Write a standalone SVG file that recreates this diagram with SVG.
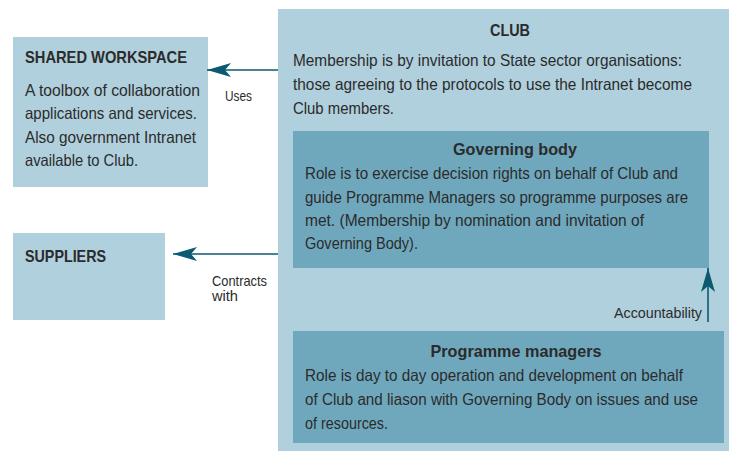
<svg xmlns="http://www.w3.org/2000/svg" width="729" height="451" viewBox="0 0 729 451">
<defs>
<style>
.light{fill:#b0d0dd}
.dark{fill:#6fa8bd}
text{font-family:"Liberation Sans",Arial,sans-serif;fill:#2b2b2b}
.t{font-size:16.5px}
.s{font-size:15.8px}
.b{font-size:16.5px;font-weight:bold}
.l{font-size:14.5px}
.conn{stroke:#0b5a72;stroke-width:1.6;fill:none}
</style>
<marker id="ah" markerUnits="userSpaceOnUse" markerWidth="24" markerHeight="14" refX="24" refY="7" orient="auto">
<path d="M0,0 L24,7 L0,14 L6,7 z" fill="#0b5a72"/>
</marker>
</defs>
<rect width="729" height="451" fill="#ffffff"/>

<g id="shared-workspace">
<rect class="light" x="13" y="37" width="195" height="150"/>
<text class="b" x="25" y="63" textLength="162" lengthAdjust="spacingAndGlyphs">SHARED WORKSPACE</text>
<text class="t" x="25" y="96" textLength="175" lengthAdjust="spacingAndGlyphs">A toolbox of collaboration</text>
<text class="t" x="25" y="119" textLength="172" lengthAdjust="spacingAndGlyphs">applications and services.</text>
<text class="t" x="25" y="143" textLength="171" lengthAdjust="spacingAndGlyphs">Also government Intranet</text>
<text class="t" x="25" y="166" textLength="113" lengthAdjust="spacingAndGlyphs">available to Club.</text>
</g>

<g id="suppliers">
<rect class="light" x="13" y="233" width="152" height="87"/>
<text class="b" x="25" y="262" textLength="81" lengthAdjust="spacingAndGlyphs">SUPPLIERS</text>
</g>

<g id="club">
<rect class="light" x="278" y="9" width="451" height="442"/>
<text class="b" x="510" y="36" text-anchor="middle" textLength="40" lengthAdjust="spacingAndGlyphs">CLUB</text>
<text class="t" x="293" y="66" textLength="389" lengthAdjust="spacingAndGlyphs">Membership is by invitation to State sector organisations:</text>
<text class="t" x="293" y="90" textLength="399" lengthAdjust="spacingAndGlyphs">those agreeing to the protocols to use the Intranet become</text>
<text class="t" x="293" y="114" textLength="101" lengthAdjust="spacingAndGlyphs">Club members.</text>
</g>

<g id="governing-body">
<rect class="dark" x="293" y="131" width="416" height="137"/>
<text class="b" x="515" y="155" text-anchor="middle" textLength="124" lengthAdjust="spacingAndGlyphs">Governing body</text>
<text class="t" x="305" y="179" textLength="373" lengthAdjust="spacingAndGlyphs">Role is to exercise decision rights on behalf of Club and</text>
<text class="t" x="305" y="203" textLength="383" lengthAdjust="spacingAndGlyphs">guide Programme Managers so programme purposes are</text>
<text class="t" x="305" y="226" textLength="339" lengthAdjust="spacingAndGlyphs">met. (Membership by nomination and invitation of</text>
<text class="t" x="305" y="249" textLength="113" lengthAdjust="spacingAndGlyphs">Governing Body).</text>
</g>

<g id="programme-managers">
<rect class="dark" x="293" y="331" width="431" height="112"/>
<text class="b" x="516" y="357" text-anchor="middle" textLength="171" lengthAdjust="spacingAndGlyphs">Programme managers</text>
<text class="t" x="305" y="381" textLength="378" lengthAdjust="spacingAndGlyphs">Role is day to day operation and development on behalf</text>
<text class="s" x="305" y="405" textLength="393" lengthAdjust="spacingAndGlyphs">of Club and liason with Governing Body on issues and use</text>
<text class="t" x="305" y="429" textLength="83" lengthAdjust="spacingAndGlyphs">of resources.</text>
</g>

<g id="connectors">
<path class="conn" d="M278,70 L207,70" marker-end="url(#ah)"/>
<text class="l" x="225" y="101" textLength="27" lengthAdjust="spacingAndGlyphs">Uses</text>
<path class="conn" d="M278,254 L173,254" marker-end="url(#ah)"/>
<text class="l" x="212" y="286" textLength="55" lengthAdjust="spacingAndGlyphs">Contracts</text>
<text class="l" x="212" y="301" textLength="26" lengthAdjust="spacingAndGlyphs">with</text>
<path class="conn" d="M708,322 L708,268" marker-end="url(#ah)"/>
<text class="l" x="614" y="318" textLength="88" lengthAdjust="spacingAndGlyphs">Accountability</text>
</g>
</svg>
